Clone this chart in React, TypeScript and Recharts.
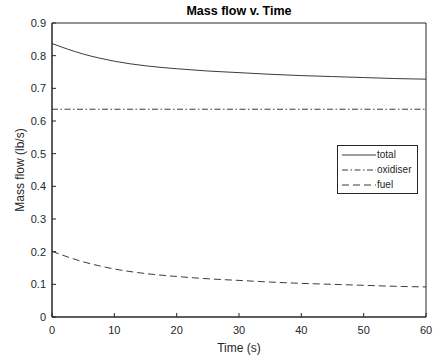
import { LineChart, Line, XAxis, YAxis, ReferenceArea } from "recharts";

const time = [0, 2.5, 5, 7.5, 10, 15, 20, 25, 30, 35, 40, 45, 50, 55, 60];
const total = [0.837, 0.82, 0.805, 0.793, 0.783, 0.769, 0.76, 0.753, 0.748, 0.743, 0.739, 0.736, 0.733, 0.73, 0.728];
const oxidiser = [0.636, 0.636, 0.636, 0.636, 0.636, 0.636, 0.636, 0.636, 0.636, 0.636, 0.636, 0.636, 0.636, 0.636, 0.636];
const fuel = [0.201, 0.184, 0.169, 0.157, 0.147, 0.133, 0.124, 0.117, 0.112, 0.107, 0.103, 0.1, 0.097, 0.094, 0.092];

const xTicks = [0, 10, 20, 30, 40, 50, 60];
const yTicks = [0, 0.1, 0.2, 0.3, 0.4, 0.5, 0.6, 0.7, 0.8, 0.9];

const data = time.map((t, i) => ({
  t,
  total: total[i],
  oxidiser: oxidiser[i],
  fuel: fuel[i],
}));

const ink = "#262626";
const font = "'Liberation Sans', Arial, sans-serif";

const series = [
  { key: "total", dash: undefined as string | undefined },
  { key: "oxidiser", dash: "6 2.5 1.5 2.5" },
  { key: "fuel", dash: "7 4" },
];

function LegendBox() {
  return (
    <div
      style={{
        position: "absolute",
        left: 337,
        top: 145,
        border: `1px solid ${ink}`,
        background: "#fff",
        padding: "1px 6px 1px 4px",
        fontFamily: font,
        fontSize: 10,
        color: ink,
      }}
    >
      {series.map((s) => (
        <div key={s.key} style={{ display: "flex", alignItems: "center", height: 15 }}>
          <svg width={34} height={6}>
            <line x1={0} y1={3} x2={34} y2={3} stroke={ink} strokeWidth={0.9} strokeDasharray={s.dash} />
          </svg>
          <span style={{ marginLeft: 1 }}>{s.key}</span>
        </div>
      ))}
    </div>
  );
}

export default function App() {
  return (
    <div style={{ position: "absolute", left: 0, top: 0, width: 435, height: 361, background: "#fff" }}>
      <div
        style={{
          position: "absolute",
          left: 52,
          width: 374,
          top: 4,
          textAlign: "center",
          fontFamily: font,
          fontWeight: "bold",
          fontSize: 12.5,
          color: "#000",
        }}
      >
        Mass flow v. Time
      </div>
      <LineChart width={435} height={361} data={data} margin={{ top: 23, right: 9, bottom: 0, left: 0 }}>
        <XAxis
          dataKey="t"
          type="number"
          domain={[0, 60]}
          ticks={xTicks}
          height={44}
          stroke={ink}
          tickSize={-4}
          tickMargin={13}
          tick={{ fill: ink, fontSize: 11, fontFamily: font }}
          label={{ value: "Time (s)", position: "insideBottom", offset: 9, fill: ink, fontSize: 12, fontFamily: font }}
        />
        <YAxis
          type="number"
          domain={[0, 0.9]}
          ticks={yTicks}
          width={52}
          stroke={ink}
          tickSize={-4}
          tickMargin={10}
          tick={{ fill: ink, fontSize: 11, fontFamily: font }}
          label={{
            value: "Mass flow (lb/s)",
            angle: -90,
            position: "insideLeft",
            offset: 20,
            style: { textAnchor: "middle" },
            fill: ink,
            fontSize: 12,
            fontFamily: font,
          }}
        />
        {/* axes box */}
        <ReferenceArea
          x1={0}
          x2={60}
          y1={0}
          y2={0.9}
          fill="none"
          fillOpacity={0}
          stroke={ink}
          strokeWidth={1}
          strokeOpacity={1}
          ifOverflow="visible"
        />
        {series.map((s) => (
          <Line
            key={s.key}
            dataKey={s.key}
            type="monotone"
            stroke={ink}
            strokeWidth={0.9}
            strokeDasharray={s.dash}
            dot={false}
            isAnimationActive={false}
          />
        ))}
      </LineChart>
      <LegendBox />
    </div>
  );
}
